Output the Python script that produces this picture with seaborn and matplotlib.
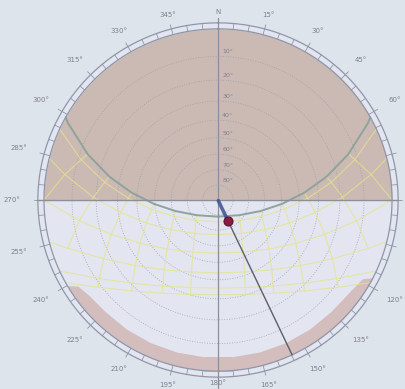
import numpy as np
import pandas as pd
import matplotlib
matplotlib.use("Agg")
import matplotlib.pyplot as plt
import seaborn as sns

# ---- sun path table (stereographic sun chart, solar time) ----
# hour angles before solar noon, degrees (0 = noon)
hour_angles = [0, 15, 30, 45, 60, 75, 90, 105]

path_names = ["Jun 21", "May 21 / Jul 23", "Apr 20 / Aug 22", "Mar 20 / Sep 23",
              "Feb 20 / Oct 23", "Jan 21 / Nov 22", "Dec 21"]

# morning azimuths (deg from north) at each hour angle, nan = sun below horizon
path_az = [
    [180, 126.3, 104.9, 93.5, 85.1, 77.7, 70.3, 62.5],
    [180, 133.6, 110.8, 98.1, 88.9, 81.0, 73.3, np.nan],
    [180, 145.6, 122.7, 108.1, 97.5, 88.7, 80.4, np.nan],
    [180, 154.7, 134.5, 119.5, 108.1, 98.6, 90.0, np.nan],
    [180, 160.1, 142.8, 128.9, 117.6, 108.1, np.nan, np.nan],
    [180, 163.0, 147.7, 134.7, 124.0, np.nan, np.nan, np.nan],
    [180, 164.0, 149.5, 137.0, 126.5, np.nan, np.nan, np.nan],
]
# matching altitudes (deg)
path_alt = [
    [78.9, 72.9, 61.7, 49.5, 37.1, 24.9, 13.0, 1.7],
    [75.5, 70.3, 59.8, 47.8, 35.5, 23.2, 11.2, np.nan],
    [67.1, 63.3, 54.4, 43.2, 31.2, 18.8, 6.5, np.nan],
    [55.5, 52.8, 45.5, 35.6, 24.3, 12.3, 0.0, np.nan],
    [43.9, 41.8, 35.8, 27.2, 16.9, 5.5, np.nan, np.nan],
    [35.5, 33.7, 28.5, 20.7, 11.2, np.nan, np.nan, np.nan],
    [32.1, 30.3, 25.4, 18.0, 8.8, np.nan, np.nan, np.nan],
]
# sunrise azimuth of each path
sunrise_az = [61.1, 65.5, 75.9, 90.0, 104.1, 114.5, 118.9]

# obstruction on the southern horizon
band_az = [117, 119, 125, 135, 145, 155, 165, 175, 185, 195, 205, 215, 225,
           233, 238, 240]
band_alt = [0.0, 3.0, 4.3, 4.8, 4.8, 4.8, 4.8, 4.8, 4.8, 4.8, 4.8, 4.8, 4.8,
            4.3, 3.0, 0.0]

# current sun position
sun_az = 154.8
sun_alt = 74.5

altitude_rings = [10, 20, 30, 40, 50, 60, 70, 80]
azimuth_labels = [0, 15, 30, 45, 60, 120, 135, 150, 165, 180, 195, 210, 225,
                  240, 255, 270, 285, 300, 315, 330, 345]

# ---- colours ----
BG = "#dde4ec"
DISC = "#e3e6f0"
MASK = "#cbbab3"
BAND = "#d4bdbd"
YELLOW = "#e4e48a"
SUMMER = "#8fa39b"
GRID = "#9b9ca8"
TEXT = "#7e8090"

sns.set_theme(style="white")
plt.rcParams["font.family"] = ["DejaVu Sans"]


def to_r(z):
    return np.tan(np.radians(np.asarray(z, dtype=float)) / 2.0)


def from_r(r):
    return np.degrees(2.0 * np.arctan(np.asarray(r, dtype=float)))


ZMAX = float(from_r(1.04))
R_HORIZON_PX = 172.0

fig = plt.figure(figsize=(4.06, 3.89), dpi=100, facecolor=BG)
ax = fig.add_axes([37 / 406, 11 / 389, 362 / 406, 356 / 389], projection="polar")
ax.set_aspect("auto")
ax.set_theta_zero_location("N")
ax.set_theta_direction(-1)
ax.set_rscale("function", functions=(to_r, from_r))
ax.set_facecolor(DISC)
ax.grid(False)
ax.spines["polar"].set_visible(False)

# north half hidden by the building mask
th = np.radians(np.linspace(-90, 90, 361))
ax.fill_between(th, 0, 90, color=MASK, lw=0, zorder=1)

# low obstruction band to the south
ax.fill_between(np.radians(band_az), 90 - np.array(band_alt), 90,
                color=BAND, lw=0, zorder=1)

# altitude rings
ring_th = np.radians(np.linspace(0, 360, 721))
for a in altitude_rings:
    ax.plot(ring_th, np.full_like(ring_th, 90 - a), color=GRID, lw=0.6,
            ls=(0, (1.2, 1.8)), alpha=0.8, zorder=2)

# build long tables for the date arcs and hour lines
rows = []
for name, azs, alts, rise in zip(path_names, path_az, path_alt, sunrise_az):
    morning = [(az, al) for az, al in zip(azs, alts) if not np.isnan(az)]
    seq = [(rise, 0.0)] + morning[::-1] + [(360 - az, al) for az, al in morning[1:]] \
        + [(360 - rise, 0.0)]
    for i, (az, al) in enumerate(seq):
        rows.append({"line": name, "order": i, "az": az, "alt": al})
arcs = pd.DataFrame(rows)
arcs["theta"] = np.radians(arcs["az"])
arcs["zenith"] = 90 - arcs["alt"]

rows = []
for k, ha in enumerate(hour_angles):
    for side in ("am", "pm"):
        for j in range(len(path_names)):
            az = path_az[j][k]
            if np.isnan(az):
                continue
            rows.append({"line": f"{ha}{side}", "order": j,
                         "az": az if side == "am" else 360 - az,
                         "alt": path_alt[j][k]})
hours = pd.DataFrame(rows)
hours["theta"] = np.radians(hours["az"])
hours["zenith"] = 90 - hours["alt"]

sns.lineplot(data=hours, x="theta", y="zenith", units="line", estimator=None,
             sort=False, color=YELLOW, lw=0.8, alpha=0.75, ax=ax, zorder=3)
sns.lineplot(data=arcs[arcs["line"] != path_names[0]], x="theta", y="zenith",
             units="line", estimator=None, sort=False, color=YELLOW, lw=0.8,
             alpha=0.75, ax=ax, zorder=3)
sns.lineplot(data=arcs[arcs["line"] == path_names[0]], x="theta", y="zenith",
             estimator=None, sort=False, color=SUMMER, lw=1.4, ax=ax, zorder=4)

# horizon and outer compass ring
ax.plot(ring_th, np.full_like(ring_th, 90.0), color="#8e96a8", lw=0.9, zorder=5)
ax.plot(ring_th, np.full_like(ring_th, from_r(1.035)), color="#8e96a8", lw=0.9,
        zorder=5, clip_on=False)
for a in range(0, 360, 5):
    outer = 1.06 if a % 15 == 0 else 1.035
    ax.plot([np.radians(a)] * 2, [90, from_r(outer)], color="#8e96a8", lw=0.6,
            zorder=5, clip_on=False)

# east-west diameter and north-south axis
ax.plot([np.radians(270), np.radians(90)], [ZMAX, ZMAX], color="#8c8e9a", lw=1.0,
        zorder=5)
ax.plot([0.5, 0.5], [-0.04, 1.01], transform=ax.transAxes, color="#8c8e9a",
        lw=0.9, zorder=5, clip_on=False)

# sun vector, marker and azimuth line
ax.plot([np.radians(sun_az)] * 2, [0.5, 90 - sun_alt],
        color="#3f4f94", lw=2.6, alpha=0.85, solid_capstyle="round", zorder=6)
ax.plot([np.radians(sun_az)] * 2, [90 - sun_alt, 90], color="#5c5f6a", lw=1.0,
        zorder=6)
sns.scatterplot(x=[np.radians(sun_az)], y=[90 - sun_alt], s=42, color="#8a1c3c",
                edgecolor="#5a1040", linewidth=0.8, ax=ax, zorder=7)

# azimuth labels
for a in azimuth_labels:
    rpx = 189 + 15 * abs(np.sin(np.radians(a)))
    if a == 180:
        rpx = 184
    lab = "N" if a == 0 else f"{a}°"
    ax.text(np.radians(a), from_r(rpx / R_HORIZON_PX), lab, fontsize=5,
            color=TEXT, ha="center", va="center", clip_on=False, zorder=8)

# altitude labels along the north axis
for a in altitude_rings:
    ax.annotate(f"{a}°", xy=(0, 90 - a), xytext=(3, 1.5),
                textcoords="offset points", fontsize=4.5, color=TEXT,
                ha="left", va="bottom", zorder=8)

ax.set_rlim(0, ZMAX)
ax.set_xticks([])
ax.set_yticks([])
ax.set_xlabel("")
ax.set_ylabel("")
legend = ax.get_legend()
if legend is not None:
    legend.remove()

fig.savefig("out.png", dpi=100, facecolor=BG)
